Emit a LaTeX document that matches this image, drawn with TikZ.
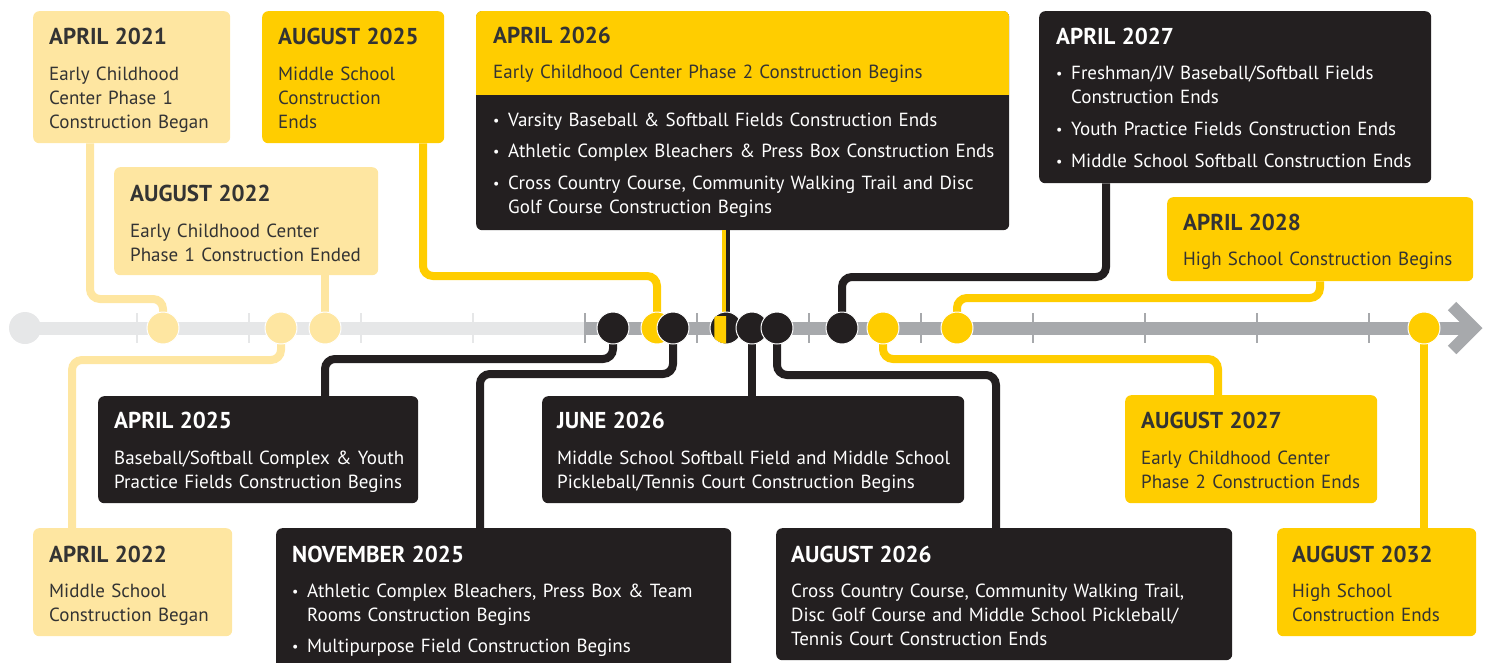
\documentclass[tikz,border=0pt]{standalone}
\usepackage{fontspec}
\setmainfont{PT Sans}[WordSpace=0.9]
\usetikzlibrary{positioning}

\definecolor{pale}{HTML}{FEE6A1}
\definecolor{ylw}{HTML}{FFCD00}
\definecolor{blk}{HTML}{231F20}
\definecolor{ink}{HTML}{333333}
\definecolor{railA}{HTML}{E6E7E8}
\definecolor{railB}{HTML}{A7A9AC}

\newcommand{\bul}{\makebox[15pt][l]{\raisebox{1pt}{\fontsize{14}{14}\selectfont\textbullet}}}
\newcommand{\ttl}[1]{{\fontsize{23}{24}\selectfont\bfseries #1}}

\begin{document}
\begin{tikzpicture}[x=1pt, y=-1pt,
  evbox/.style={rounded corners=6pt, anchor=north west, inner sep=0pt},
  evtext/.style={anchor=base west, inner sep=0pt, align=left, text width=560pt,
    font=\fontsize{19}{24}\selectfont},
  lnk/.style={line width=8pt, rounded corners=10pt},
  dot/.style={circle, minimum size=32pt, inner sep=0pt, draw=white, line width=1pt},
  ]
  \useasboundingbox (0,0) rectangle (1486,662);

  % boxes, top row
  \node[evbox, fill=pale, minimum width=197pt, minimum height=132pt] (a21) at (33,11) {};
  \node[evbox, fill=ylw, minimum width=182pt, minimum height=132pt] (a25b) at (262,11) {};
  \node[evbox, fill=pale, minimum width=264pt, minimum height=108pt] (a22b) at (114,167) {};
  \node[evbox, fill=blk, minimum width=533pt, minimum height=219pt] (a26a) at (476,11) {};
  \begin{scope}
    \clip[rounded corners=6pt] (a26a.north west) rectangle (a26a.south east);
    \fill[ylw] (a26a.north west) rectangle ([yshift=-84pt]a26a.north east);
  \end{scope}
  \node[evbox, fill=blk, minimum width=392pt, minimum height=172pt] (a27a) at (1039,11) {};
  \node[evbox, fill=ylw, minimum width=306pt, minimum height=84pt] (a28) at (1167,197) {};

  % boxes, bottom rows
  \node[evbox, fill=blk, minimum width=320pt, minimum height=107pt] (a25a) at (98,396) {};
  \node[evbox, fill=blk, minimum width=422pt, minimum height=107pt] (a26b) at (542,396) {};
  \node[evbox, fill=ylw, minimum width=252pt, minimum height=108pt] (a27b) at (1125,395) {};
  \node[evbox, fill=pale, minimum width=199pt, minimum height=108pt] (a22a) at (33,528) {};
  \node[evbox, fill=blk, minimum width=455pt, minimum height=152pt] (a25c) at (276,528) {};
  \node[evbox, fill=blk, minimum width=456pt, minimum height=132pt] (a26c) at (776,528) {};
  \node[evbox, fill=ylw, minimum width=199pt, minimum height=108pt] (a32) at (1277,528) {};

  % texts
  \node[evtext, text=ink] (a21t) at ([shift={(16pt,-33pt)}]a21.north west)
    {\ttl{APRIL 2021}\\[12pt]Early Childhood\\Center Phase 1\\Construction Began};
  \node[evtext, text=ink] (a25bt) at ([shift={(16pt,-33pt)}]a25b.north west)
    {\ttl{AUGUST 2025}\\[12pt]Middle School\\Construction\\Ends};
  \node[evtext, text=ink] (a22bt) at ([shift={(16pt,-34pt)}]a22b.north west)
    {\ttl{AUGUST 2022}\\[12pt]Early Childhood Center\\Phase 1 Construction Ended};
  \node[evtext, text=white] (a26at) at ([shift={(17pt,-32pt)}]a26a.north west)
    {\textcolor{ink}{\ttl{APRIL 2026}}\\[11pt]
     \textcolor{ink}{Early Childhood Center Phase 2 Construction Begins}\\[24pt]
     \bul Varsity Baseball \& Softball Fields Construction Ends\\[7pt]
     \bul Athletic Complex Bleachers \& Press Box Construction Ends\\[8pt]
     \bul Cross Country Course, Community Walking Trail and Disc\\
     \hspace*{15pt}Golf Course Construction Begins};
  \node[evtext, text=white] (a27at) at ([shift={(17pt,-33pt)}]a27a.north west)
    {\ttl{APRIL 2027}\\[11pt]
     \bul Freshman/JV Baseball/Softball Fields\\
     \hspace*{15pt}Construction Ends\\[8pt]
     \bul Youth Practice Fields Construction Ends\\[8pt]
     \bul Middle School Softball Construction Ends};
  \node[evtext, text=ink] (a28t) at ([shift={(16pt,-33pt)}]a28.north west)
    {\ttl{APRIL 2028}\\[11pt]High School Construction Begins};
  \node[evtext, text=white] (a25at) at ([shift={(16pt,-32pt)}]a25a.north west)
    {\ttl{APRIL 2025}\\[12pt]Baseball/Softball Complex \& Youth\\Practice Fields Construction Begins};
  \node[evtext, text=white] (a26bt) at ([shift={(15pt,-32pt)}]a26b.north west)
    {\ttl{JUNE 2026}\\[12pt]Middle School Softball Field and Middle School\\Pickleball/Tennis Court Construction Begins};
  \node[evtext, text=ink] (a27bt) at ([shift={(16pt,-33pt)}]a27b.north west)
    {\ttl{AUGUST 2027}\\[12pt]Early Childhood Center\\Phase 2 Construction Ends};
  \node[evtext, text=ink] (a22at) at ([shift={(16pt,-34pt)}]a22a.north west)
    {\ttl{APRIL 2022}\\[11pt]Middle School\\Construction Began};
  \node[evtext, text=white] (a25ct) at ([shift={(16pt,-34pt)}]a25c.north west)
    {\ttl{NOVEMBER 2025}\\[11pt]
     \bul Athletic Complex Bleachers, Press Box \& Team\\
     \hspace*{15pt}Rooms Construction Begins\\[7pt]
     \bul Multipurpose Field Construction Begins};
  \node[evtext, text=white] (a26ct) at ([shift={(15pt,-34pt)}]a26c.north west)
    {\ttl{AUGUST 2026}\\[11pt]Cross Country Course, Community Walking Trail,\\
     Disc Golf Course and Middle School Pickleball/\\Tennis Court Construction Ends};
  \node[evtext, text=ink] (a32t) at ([shift={(15pt,-34pt)}]a32.north west)
    {\ttl{AUGUST 2032}\\[11pt]High School\\Construction Ends};

  % timeline
  \coordinate (railmid) at (585,328);
  \coordinate (railend) at (1470,328);
  \node[circle, fill=railA, minimum size=32pt, inner sep=0pt] (d0) at (25,328) {};
  \draw[railA, line width=13pt] (d0.center) -- (railmid);
  \draw[railB, line width=13pt] (railmid) -- (railend);
  \draw[railB, line width=12pt, miter limit=10] (1452,306) -- (1474,328) -- (1452,350);
  \foreach \t in {137,249,...,473} {
    \draw[white, line width=2.8pt] (\t,313) -- (\t,343);
    \draw[railA, line width=1.5pt] (\t,313) -- (\t,343);
  }
  \foreach \t in {585,697,...,1369} {
    \draw[white, line width=2.8pt] (\t,313) -- (\t,343);
    \draw[railB, line width=1.5pt] (\t,313) -- (\t,343);
  }

  % dots
  \coordinate (d21) at (163,328);
  \coordinate (d22a) at (281,328);
  \coordinate (d22b) at (325,328);
  \coordinate (d25a) at (613,328);
  \coordinate (d25b) at (657,328);
  \coordinate (d25c) at (673,328);
  \coordinate (d26a) at (726,328);
  \coordinate (d26b) at (752,328);
  \coordinate (d26c) at (777,328);
  \coordinate (d27a) at (842,328);
  \coordinate (d27b) at (883,328);
  \coordinate (d28) at (957,328);
  \coordinate (d32) at (1424,328);

  % connectors
  \draw[lnk, pale] ([xshift=57pt]a21.south west) |- ([yshift=29pt]d21) -- (d21);
  \draw[lnk, pale] (d22b) -- (d22b |- a22b.south);
  \draw[lnk, pale] ([xshift=39pt]a22a.north west) |- ([yshift=-32pt]d22a) -- (d22a);
  \draw[lnk, ylw] ([xshift=161pt]a25b.south west) |- ([yshift=52pt]d25b) -- (d25b);
  \draw[lnk, blk] ([xshift=227pt]a25a.north west) |- ([yshift=-31pt]d25a) -- (d25a);
  \draw[lnk, blk] ([xshift=204pt]a25c.north west) |- ([yshift=-46pt]d25c) -- (d25c);
  \draw[ylw, line width=4pt, transform canvas={xshift=-2pt}] (d26a) -- (d26a |- a26a.south);
  \draw[blk, line width=4pt, transform canvas={xshift=2pt}] (d26a) -- (d26a |- a26a.south);
  \draw[lnk, blk] (d26b) -- (d26b |- a26b.north);
  \draw[lnk, blk] (d26c) -- ([yshift=-47pt]d26c) -| ([xshift=220pt]a26c.north west);
  \draw[lnk, blk] ([xshift=67pt]a27a.south west) |- ([yshift=51pt]d27a) -- (d27a);
  \draw[lnk, ylw] (d27b) -- ([yshift=-31pt]d27b) -| ([xshift=93pt]a27b.north west);
  \draw[lnk, ylw] ([xshift=153pt]a28.south west) |- ([yshift=30pt]d28) -- (d28);
  \draw[lnk, ylw] (d32) -- (d32 |- a32.north);

  \node[dot, fill=pale] (n21) at (d21) {};
  \node[dot, fill=pale] (n22a) at (d22a) {};
  \node[dot, fill=pale] (n22b) at (d22b) {};
  \node[dot, fill=blk] (n25a) at (d25a) {};
  \node[dot, fill=ylw] (n25b) at (d25b) {};
  \node[dot, fill=blk] (n25c) at (d25c) {};
  \node[dot, fill=blk] (n26a) at (d26a) {};
  \begin{scope}
    \clip (n26a.north west) rectangle (n26a.south);
    \fill[ylw] (d26a) circle[radius=15.5pt];
  \end{scope}
  \node[dot, fill=blk] (n26b) at (d26b) {};
  \node[dot, fill=blk] (n26c) at (d26c) {};
  \node[dot, fill=blk] (n27a) at (d27a) {};
  \node[dot, fill=ylw] (n27b) at (d27b) {};
  \node[dot, fill=ylw] (n28) at (d28) {};
  \node[dot, fill=ylw] (n32) at (d32) {};
\end{tikzpicture}
\end{document}
